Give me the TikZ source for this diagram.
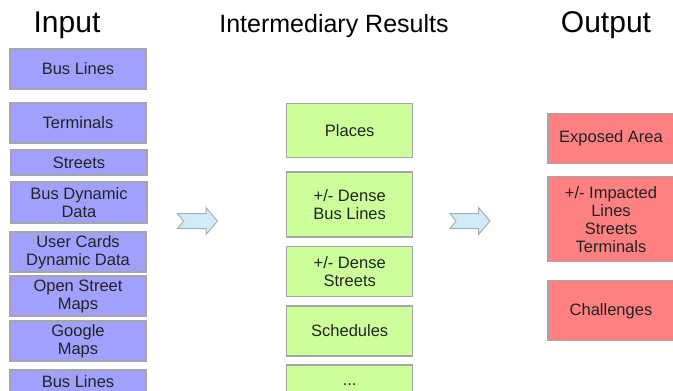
\documentclass[tikz,border=0pt]{standalone}
\usepackage{fontspec}
\setmainfont{Liberation Sans}
\definecolor{inblue}{RGB}{160,160,255}
\definecolor{midgreen}{RGB}{204,255,153}
\definecolor{outred}{RGB}{255,128,128}
\definecolor{boxline}{RGB}{165,165,165}
\definecolor{arrfill}{RGB}{212,234,247}
\definecolor{arrline}{RGB}{160,176,186}
\definecolor{txt}{RGB}{35,35,35}
\tikzset{
  basebox/.style={draw=boxline, line width=1.2pt, inner sep=0pt, align=center,
    text=txt, font=\fontsize{16.5}{18}\selectfont},
  inbox/.style={basebox, fill=inblue, minimum width=136pt},
  midbox/.style={basebox, fill=midgreen, minimum width=126pt},
  outbox/.style={basebox, fill=outred, minimum width=126pt},
  title/.style={inner sep=0pt, anchor=base, text=black},
  bigarrow/.style={draw=arrline, fill=arrfill, line width=1pt, line join=miter}
}
\begin{document}
\begin{tikzpicture}[x=1pt, y=-1pt]
\clip (0,0) rectangle (673,391);
\fill[white] (0,0) rectangle (673,391);

% titles
\node[title, font=\fontsize{30}{32}\selectfont] (tin) at (67,32) {Input};
\node[title, font=\fontsize{25}{28}\selectfont] (tmid) at (334,32) {Intermediary Results};
\node[title, font=\fontsize{30}{32}\selectfont] (tout) at (606,32) {Output};

% input boxes
\node[inbox, minimum height=40pt] (i1) at (78,69) {Bus Lines};
\node[inbox, minimum height=40pt] (i2) at (78,123) {Terminals};
\node[inbox, minimum height=25pt] (i3) at (79,162.5) {Streets};
\node[inbox, minimum height=41pt] (i4) at (79,202.5) {Bus Dynamic\\Data};
\node[inbox, minimum height=40pt] (i5) at (78,252) {User Cards\\Dynamic Data};
\node[inbox, minimum height=40pt] (i6) at (78,296) {Open Street\\Maps};
\node[inbox, minimum height=40pt] (i7) at (78,341) {Google\\Maps};
\node[inbox, minimum height=24pt] (i8) at (78,382) {Bus Lines};

% intermediary boxes
\node[midbox, minimum height=54pt] (m1) at (349.7,130.5) {Places};
\node[midbox, minimum height=65pt] (m2) at (349.7,204.5) {+/- Dense\\Bus Lines};
\node[midbox, minimum height=50pt] (m3) at (349.7,271.7) {+/- Dense\\Streets};
\node[midbox, minimum height=50pt] (m4) at (349.7,331) {Schedules};
\node[midbox, minimum height=40pt] (m5) at (349.7,385) {...};

% output boxes
\node[outbox, minimum height=50pt] (o1) at (611,138.3) {Exposed Area};
\node[outbox, minimum height=85pt] (o2) at (611,219.2) {+/- Impacted\\Lines\\Streets\\Terminals};
\node[outbox, minimum height=60pt] (o3) at (611,310.8) {Challenges};

% block arrows
\draw[bigarrow] (177.5,213.5) -- (206,213.5) -- (206,207.5) -- (217.5,221)
  -- (206,234.5) -- (206,228.5) -- (177.5,228.5) -- (183.5,221) -- cycle;
\draw[bigarrow] (450,213.5) -- (478.5,213.5) -- (478.5,207.5) -- (490,221)
  -- (478.5,234.5) -- (478.5,228.5) -- (450,228.5) -- (456,221) -- cycle;
\end{tikzpicture}
\end{document}
